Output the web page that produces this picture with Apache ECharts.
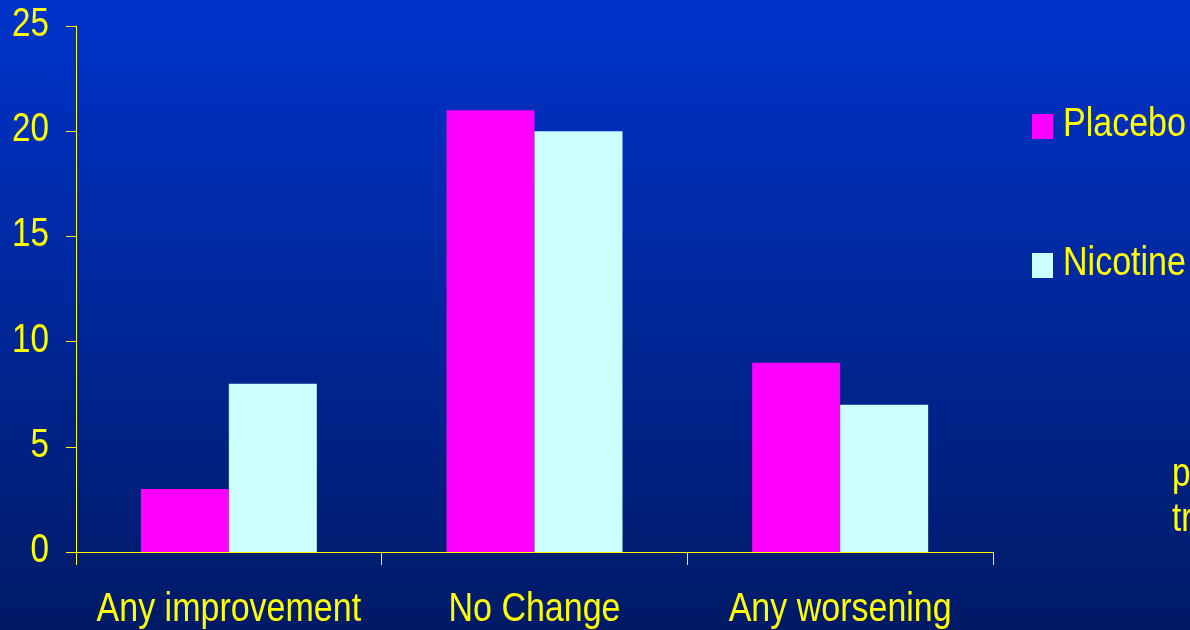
<!DOCTYPE html>
<html>
<head>
<meta charset="utf-8">
<script src="https://cdn.jsdelivr.net/npm/echarts@6/dist/echarts.min.js"></script>
<style>
  html, body { margin: 0; padding: 0; }
  #chart { width: 1190px; height: 630px; }
</style>
</head>
<body>
<div id="chart"></div>
<script>
// Outcome categories and counts per treatment arm
const categories = ['Any improvement', 'No Change', 'Any worsening'];
const seriesNames = ['Placebo', 'Nicotine'];
const placebo = [3, 21, 9];
const nicotine = [8, 20, 7];
const yTicks = [0, 5, 10, 15, 20, 25];
const noteLines = ['p', 'tr'];

const FONT = '"Liberation Sans", Arial, sans-serif';
const YELLOW = '#ffff00';
const NARROW = 0.83;            // horizontal squeeze for a condensed-face look
const COLORS = ['#ff00ff', '#ccffff'];

const chart = echarts.init(document.getElementById('chart'));
chart.setOption({
  animation: false,
  backgroundColor: new echarts.graphic.LinearGradient(0, 0, 0, 1, [
    { offset: 0, color: '#0033cc' },
    { offset: 1, color: '#001a66' }
  ]),
  grid: { left: 76, right: 197, top: 26, bottom: 78, containLabel: false },
  legend: {
    orient: 'vertical',
    left: 1032,
    top: 114,
    padding: 0,
    itemWidth: 21,
    itemHeight: 25,
    itemGap: 114,
    icon: 'rect',
    formatter: () => '',
    textStyle: { fontSize: 1, padding: 0 },
    data: seriesNames
  },
  xAxis: {
    type: 'category',
    data: categories,
    axisLine: { lineStyle: { color: YELLOW, width: 1 } },
    axisTick: { show: true, length: 13, lineStyle: { color: YELLOW } },
    axisLabel: { show: false }
  },
  yAxis: {
    type: 'value',
    min: yTicks[0],
    max: yTicks[yTicks.length - 1],
    interval: yTicks[1] - yTicks[0],
    splitLine: { show: false },
    axisLine: { show: true, lineStyle: { color: YELLOW, width: 1 } },
    axisTick: { show: true, length: 10, lineStyle: { color: YELLOW } },
    axisLabel: { show: false }
  },
  series: [
    {
      name: seriesNames[0],
      type: 'bar',
      data: placebo,
      barWidth: 88,
      barGap: '0%',
      itemStyle: { color: COLORS[0] }
    },
    {
      name: seriesNames[1],
      type: 'bar',
      data: nicotine,
      barWidth: 88,
      itemStyle: { color: COLORS[1] }
    }
  ]
});

// Condensed text labels placed through the chart's own axis scales
function narrowText(x, y, text, align, vAlign, size, squeeze) {
  return {
    type: 'text',
    x: x, y: y,
    scaleX: squeeze || NARROW,
    silent: true,
    style: {
      text: text, x: 0, y: 0,
      fill: YELLOW,
      font: size + 'px ' + FONT,
      align: align,
      verticalAlign: vAlign
    }
  };
}

const labels = [];
const axisY = chart.convertToPixel({ yAxisIndex: 0 }, 0);

yTicks.forEach(v => {
  const py = chart.convertToPixel({ yAxisIndex: 0 }, v);
  labels.push(narrowText(49, py - 1, String(v), 'right', 'middle', 40));
});

categories.forEach((c, i) => {
  const px = chart.convertToPixel({ xAxisIndex: 0 }, i);
  labels.push(narrowText(px, axisY + 38, c, 'center', 'top', 40, 0.85));
});

// legend captions next to the legend swatches
const legendTops = [114, 253];
seriesNames.forEach((n, i) => {
  labels.push(narrowText(1063, legendTops[i] + 11, n, 'left', 'middle', 41));
});

// footnote lines at the lower right
noteLines.forEach((t, i) => {
  labels.push(narrowText(1172, 455 + i * 45, t, 'left', 'top', 40));
});

chart.setOption({ graphic: labels });
</script>
</body>
</html>
